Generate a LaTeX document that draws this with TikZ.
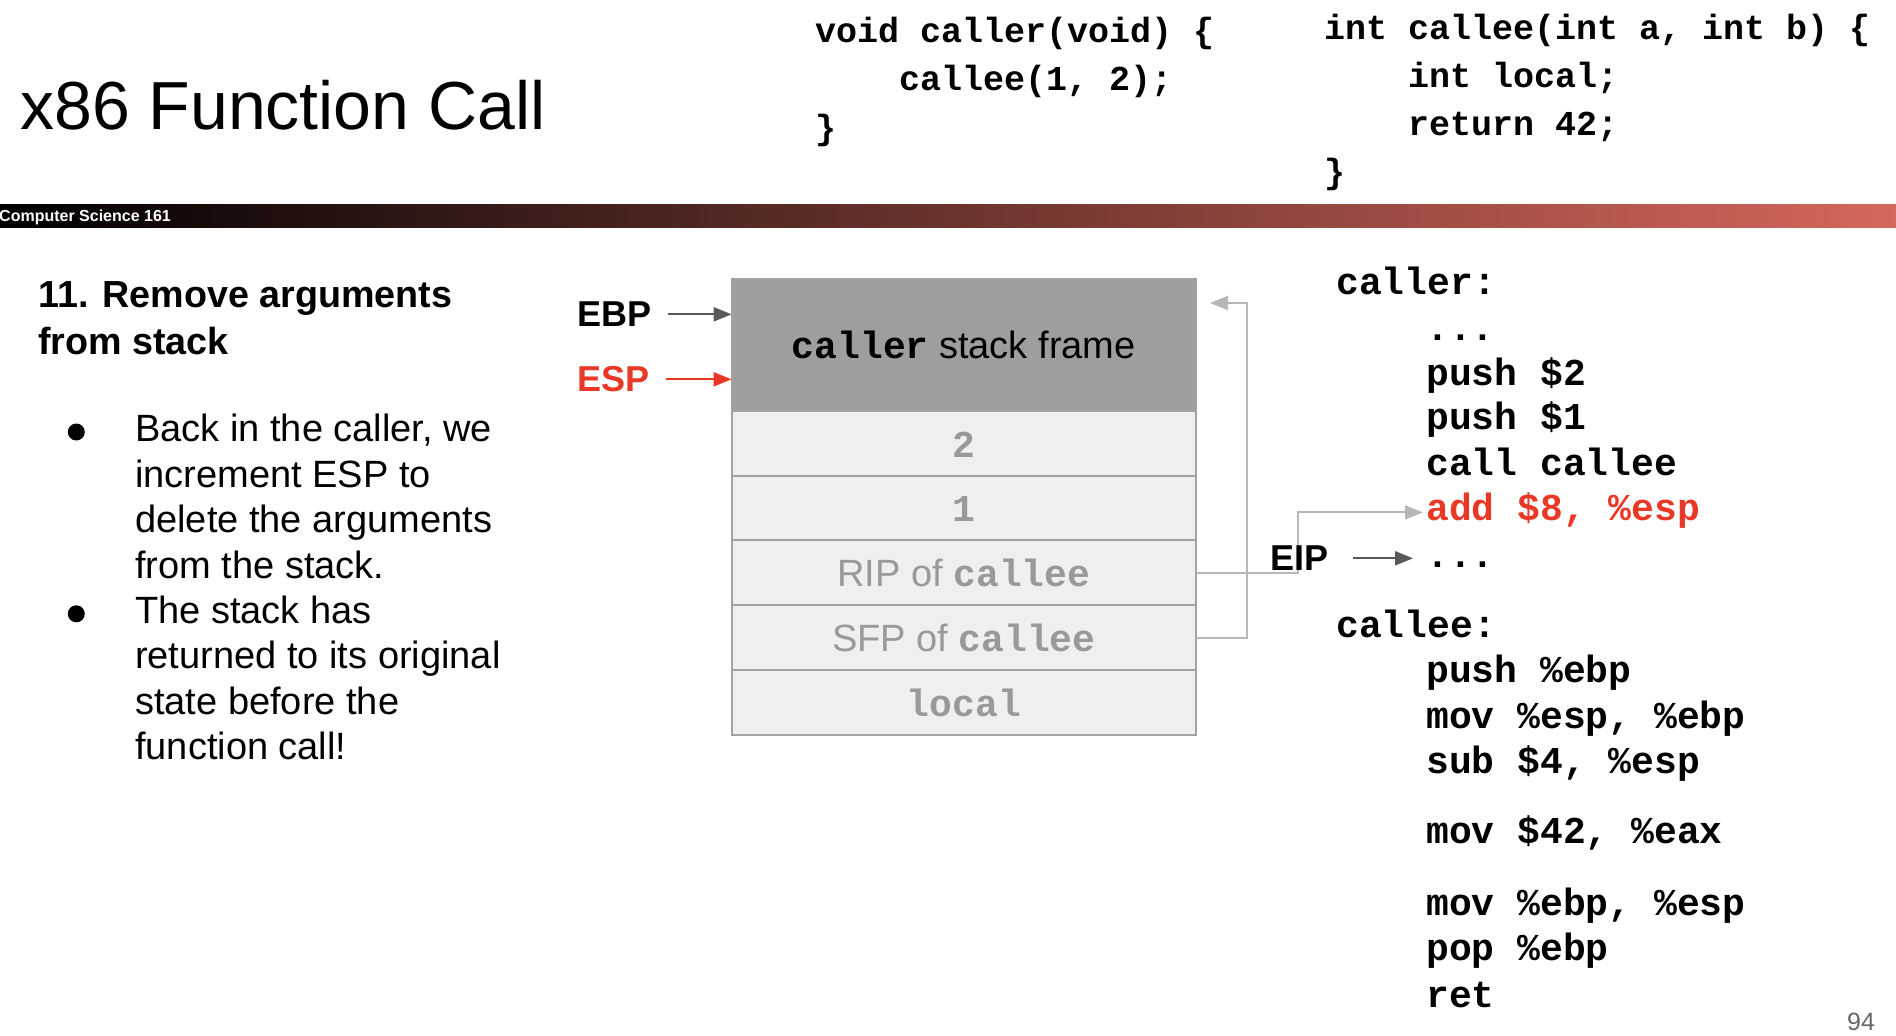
\documentclass[tikz,border=0pt]{standalone}
\usepackage{fontspec}
\setmainfont{Liberation Sans}
\newfontfamily\codefont{Liberation Mono}
\usetikzlibrary{arrows.meta, positioning}
\definecolor{framegray}{RGB}{158,158,158}
\definecolor{slotfill}{RGB}{239,239,239}
\definecolor{slotline}{RGB}{162,162,162}
\definecolor{slottext}{RGB}{153,153,153}
\definecolor{linkgray}{RGB}{183,183,183}
\definecolor{ptrgray}{RGB}{89,89,89}
\definecolor{regred}{RGB}{234,56,38}
\definecolor{barred}{RGB}{213,103,91}
\definecolor{pagegray}{RGB}{102,102,102}
\newcommand{\fsz}[2]{\fontsize{#1pt}{#2pt}\selectfont}
\newcommand{\code}[1]{{\codefont\bfseries #1}}
\newcommand{\asmline}[4]{%
% #1 = name, #2 = x, #3 = baseline, #4 = text
\node[asm] (#1) at (#2,#3) {#4};
}

\begin{document}
\begin{tikzpicture}[
    x=1pt, y=-1pt,
    >={Triangle[length=18pt,width=14pt]},
    slot/.style={draw=slotline, fill=slotfill, line width=2pt,
        minimum width=464.4pt, minimum height=64.86pt,
        inner sep=0pt, outer sep=0pt, text=slottext,
        font=\fsz{38}{44}, text height=29pt, text depth=1pt},
    txt/.style={inner sep=0pt, anchor=base west},
    body/.style={txt, font=\fsz{38}{45}},
    reg/.style={txt, font=\fsz{36}{42}\bfseries},
    csrc/.style={txt, font=\fsz{35}{42}\codefont\bfseries},
    asm/.style={txt, font=\fsz{38}{45}\codefont\bfseries},
    bullet/.style={circle, fill=black, minimum size=17pt, inner sep=0pt},
    ptr/.style={->, line width=2.2pt, draw=ptrgray},
    link/.style={->, line width=2pt, draw=linkgray}
]
\useasboundingbox (0,0) rectangle (1896,1036);

% header
\node[body, font=\fsz{68}{80}] (title) at (20,129.3) {x86 Function Call};
\shade[left color=black, right color=barred] (0,204) rectangle (1896,227.3);
\node[txt, text=white, font=\fsz{16}{19}\bfseries] (course) at (-1,221.7) {Computer Science 161};
\node[txt, text=pagegray, font=\fsz{25}{30}] (page) at (1847,1030) {94};

% C source
\node[csrc] (srcA) at (815,42.4) {void caller(void) \{};
\node[csrc] (srcB) at (899,90.7) {callee(1, 2);};
\node[csrc] (srcC) at (815,139) {\}};
\node[csrc] (srcD) at (1324,39.3) {int callee(int a, int b) \{};
\node[csrc] (srcE) at (1408,87.4) {int local;};
\node[csrc] (srcF) at (1408,135.5) {return 42;};
\node[csrc] (srcG) at (1324,183.6) {\}};

% left column
\node[body, font=\fsz{37.7}{45}\bfseries] (headA) at (38,307.7) {11. Remove arguments};
\node[body, font=\fsz{37.7}{45}\bfseries] (headB) at (38,354) {from stack};
\node[bullet] (dotA) at (76.3,432) {};
\node[body] (lineA) at (135,441.7) {Back in the caller, we};
\node[body] (lineB) at (135,487.15) {increment ESP to};
\node[body] (lineC) at (135,532.6) {delete the arguments};
\node[body] (lineD) at (135,578.05) {from the stack.};
\node[bullet] (dotB) at (76.3,613.8) {};
\node[body] (lineE) at (135,623.5) {The stack has};
\node[body] (lineF) at (135,668.95) {returned to its original};
\node[body] (lineG) at (135,714.4) {state before the};
\node[body] (lineH) at (135,759.85) {function call!};

% stack
\node[slot, fill=framegray, text=black, minimum height=131.7pt] (frame) at (963.8,344.85) {\code{caller} stack frame};
\node[slot, below=0pt of frame] (arg2) {\code{2}};
\node[slot, below=0pt of arg2] (arg1) {\code{1}};
\node[slot, below=0pt of arg1] (rip) {RIP of \code{callee}};
\node[slot, below=0pt of rip] (sfp) {SFP of \code{callee}};
\node[slot, below=0pt of sfp] (local) {\code{local}};

% assembly
\asmline{callerlbl}{1336}{294.1}{caller:}
\asmline{dotsA}{1426}{340.4}{...}
\asmline{pushA}{1426}{385.1}{push \$2}
\asmline{pushB}{1426}{429.1}{push \$1}
\asmline{callA}{1426}{475.1}{call callee}
\node[asm, text=regred] (addl) at (1426,520.4) {add \$8, \%esp};
\asmline{dotsB}{1426}{567.4}{...}
\asmline{calleelbl}{1336}{637.4}{callee:}
\asmline{pushC}{1426}{682.4}{push \%ebp}
\asmline{movA}{1426}{728.4}{mov \%esp, \%ebp}
\asmline{subA}{1426}{773.1}{sub \$4, \%esp}
\asmline{movB}{1426}{843.1}{mov \$42, \%eax}
\asmline{movC}{1426}{915.4}{mov \%ebp, \%esp}
\asmline{popA}{1426}{960.4}{pop \%ebp}
\asmline{retA}{1426}{1007.4}{ret}

% saved pointers
\draw[link] (rip.east) -- ++(102,0) |- ([shift={(-3,-8)}]addl.base west);
\draw[link] (sfp.east) -- ++(51,0) |- ([shift={(14,24)}]frame.north east);

% registers
\node[reg] (ebp) at (577,326.7) {EBP};
\node[reg, text=regred] (esp) at (577,391.7) {ESP};
\node[reg] (eip) at (1270,570.7) {EIP};
\draw[ptr, shorten <=17pt] (ebp.east) -- (ebp.east -| frame.west);
\draw[ptr, draw=regred, shorten <=17pt] (esp.east) -- (esp.east -| frame.west);
\draw[ptr, shorten <=25pt, shorten >=13pt] (eip.east) -- (eip.east -| dotsB.west);
\end{tikzpicture}
\end{document}
